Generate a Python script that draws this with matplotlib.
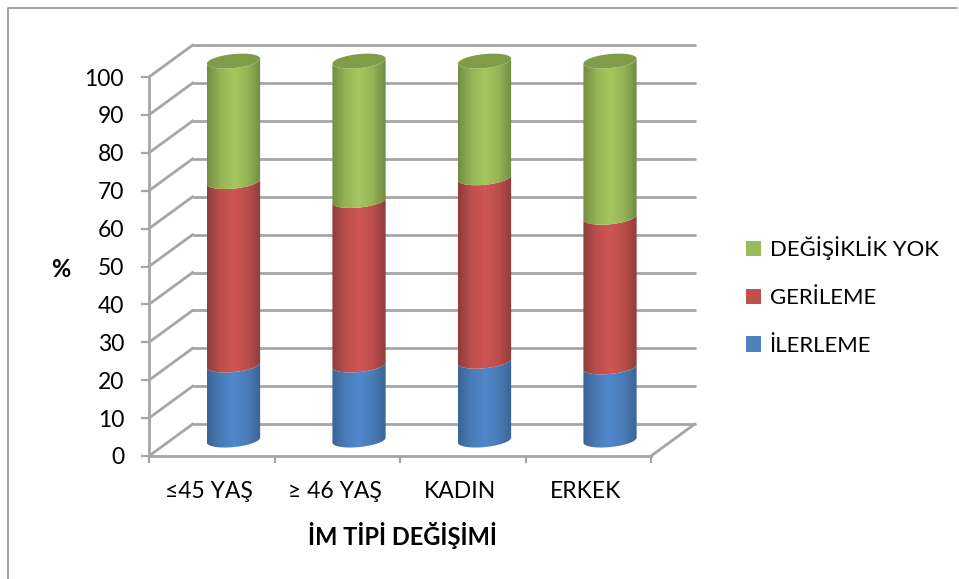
#!/usr/bin/env python3
"""IM tipi degisimi - stacked 3D style cylinders, drawn on a flat axes"""

import numpy as np
import matplotlib
matplotlib.use('Agg')
import matplotlib.pyplot as plt
from matplotlib.colors import LinearSegmentedColormap
from matplotlib.lines import Line2D
from matplotlib.patches import Patch, PathPatch
from matplotlib.path import Path

plt.rcParams['font.family'] = ['Lato', 'DejaVu Sans']

# ===== DATA =====
categories = ['≤45 YAŞ', '≥ 46 YAŞ', 'KADIN', 'ERKEK']
ilerleme = [19.8, 19.8, 20.8, 19.3]
gerileme = [48.4, 43.4, 48.4, 39.5]
degisiklik_yok = [31.8, 36.8, 30.8, 41.2]
series_names = ['İLERLEME', 'GERİLEME', 'DEĞİŞİKLİK YOK']
y_ticks = list(range(0, 101, 10))

# ===== STYLE =====
W, H = 959, 579
GRID = '#a6a6a6'
TEXT = '#000000'
# edge to centre to edge
SHADES = [('#3b6496', '#4a7cb8', '#5088cb', '#4a7cb8', '#3b6496'),
          ('#8f3d3b', '#bd4f4c', '#cf5654', '#bd4f4c', '#8f3d3b'),
          ('#728c42', '#95b556', '#a5c75f', '#95b556', '#728c42')]
LEGEND_COLORS = ['#4f81bd', '#c0504d', '#9bbb59']
TOP_COLOR = '#7f9c48'

# depth of the fake 3D box, x in categories and y in value units
DEPTH_X = 0.347
DEPTH_Y = 8.4
# cylinder ellipse
CYL_A = 0.212
CYL_B = 1.85
CYL_SHEAR = 0.66

fig = plt.figure(figsize=(W / 100, H / 100), dpi=100)
ax = fig.add_axes([149 / W, 1 - 456 / H, (651 - 149) / W, (456 - 77) / H])
ax.patch.set_visible(False)
ax.set_autoscale_on(False)
ax.set_xlim(0, len(categories))
ax.set_ylim(0, 100)

for side in ['top', 'right']:
    ax.spines[side].set_visible(False)
for side in ['left', 'bottom']:
    ax.spines[side].set_color(GRID)
    ax.spines[side].set_linewidth(2.0)

n = len(categories)
ax.set_yticks(y_ticks)
ax.set_xticks(range(n + 1))
ax.set_xticklabels([])
ax.set_xticks(np.arange(n) + 0.48, labels=categories, minor=True)
ax.tick_params(axis='y', length=6, width=1.6, color=GRID, labelsize=16.5, pad=12, labelcolor=TEXT)
ax.tick_params(axis='x', which='major', length=5, width=1.6, color=GRID)
ax.tick_params(axis='x', which='minor', length=0, labelsize=16.5, pad=18, labelcolor=TEXT)

# back wall and side wall grid lines
for v in y_ticks:
    ax.plot([DEPTH_X, n + DEPTH_X], [v + DEPTH_Y, v + DEPTH_Y], color=GRID, lw=2.0,
            clip_on=False, solid_capstyle='round', zorder=1)
    ax.plot([0, DEPTH_X], [v, v + DEPTH_Y], color=GRID, lw=2.0, clip_on=False, zorder=1)
ax.plot([n, n + DEPTH_X], [0, DEPTH_Y], color=GRID, lw=2.0, clip_on=False, zorder=1)


def lower_arc(cx, cy, reverse=False):
    t = np.linspace(np.pi, 2 * np.pi, 50)
    if reverse:
        t = t[::-1]
    return np.column_stack([cx + CYL_A * np.cos(t), cy + CYL_SHEAR * np.cos(t) + CYL_B * np.sin(t)])


# cylinders
stack = [ilerleme, gerileme, degisiklik_yok]
for i in range(n):
    cx = i + 0.5 + DEPTH_X / 2
    base = DEPTH_Y / 2
    for vals, shade in zip(stack, SHADES):
        top = base + vals[i]
        pts = np.vstack([lower_arc(cx, base), lower_arc(cx, top, reverse=True)])
        clip = PathPatch(Path(pts), transform=ax.transData, facecolor='none', edgecolor='none')
        ax.add_patch(clip)
        cmap = LinearSegmentedColormap.from_list('cyl', shade)
        im = ax.imshow(np.linspace(0, 1, 128).reshape(1, -1), cmap=cmap, aspect='auto',
                       extent=[cx - CYL_A, cx + CYL_A, base - CYL_B - 1, top + 1],
                       interpolation='bilinear', zorder=3)
        # axes box would cut the part above 100
        im.set_clip_box(fig.bbox)
        im.set_clip_path(clip)
        base = top
    t = np.linspace(0, 2 * np.pi, 100)
    ax.fill(cx + CYL_A * np.cos(t), base + CYL_SHEAR * np.cos(t) + CYL_B * np.sin(t),
            color=TOP_COLOR, lw=0, zorder=4, clip_on=False)

ax.set_xlim(0, n)
ax.set_ylim(0, 100)

# axis titles
ax.set_xlabel('İM TİPİ DEĞİŞİMİ', fontsize=17, fontweight='bold', color=TEXT)
ax.xaxis.set_label_coords((402 - 149) / (651 - 149), -(522 - 456) / (456 - 77), transform=ax.transAxes)
ax.xaxis.label.set_verticalalignment('top')
ax.set_ylabel('%', fontsize=17, fontweight='bold', rotation=0, color=TEXT, ha='center', va='center')
ax.yaxis.set_label_coords((61 - 149) / (651 - 149), (456 - 269) / (456 - 77), transform=ax.transAxes)

# legend, top entry is the top of the stack
handles = [Patch(facecolor=c, edgecolor='none', label=s) for c, s in zip(LEGEND_COLORS, series_names)]
fig.legend(handles=handles[::-1], loc='center left', bbox_to_anchor=(726 / W, 1 - 296 / H),
           frameon=False, fontsize=15.9, handlelength=0.69, handleheight=0.69,
           handletextpad=0.38, labelspacing=1.26, labelcolor=TEXT)

# outer chart border (only left and top show in the crop)
fig.add_artist(Line2D([8 / W, 8 / W, 957 / W], [0, 1 - 8 / H, 1 - 8 / H], color='#8c8c8c', lw=1.1))

fig.savefig('out.png', dpi=100)
plt.close('all')
